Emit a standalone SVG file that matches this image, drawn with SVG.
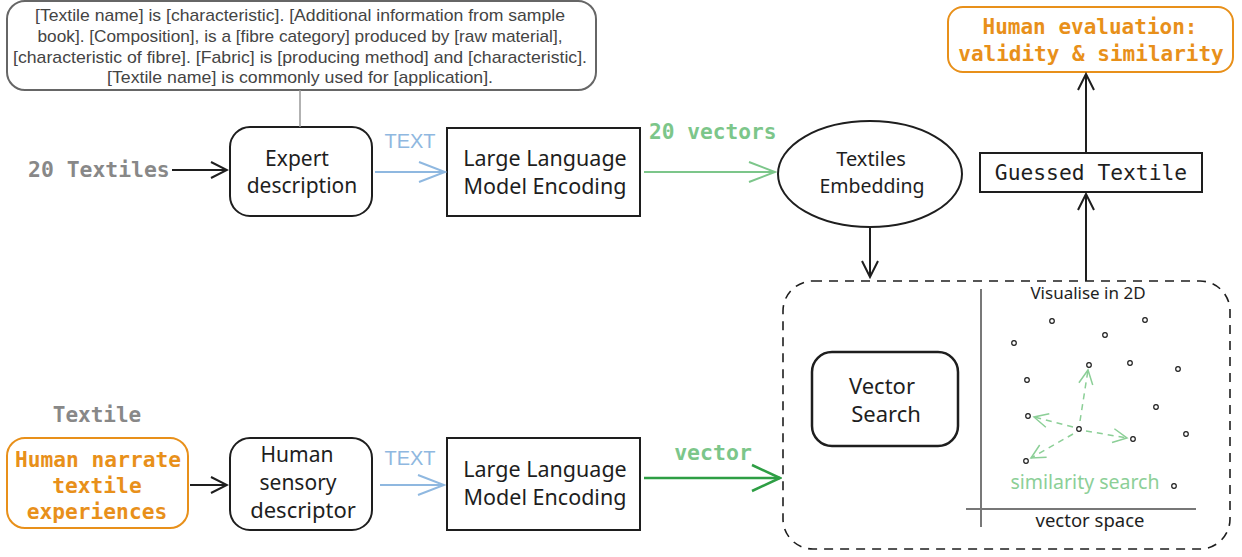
<svg xmlns="http://www.w3.org/2000/svg" width="1242" height="557" viewBox="0 0 1242 557">
<style>
.hand{font-family:"Noto Sans","DejaVu Sans",sans-serif;fill:#1e1e1e;text-anchor:middle}
.mono{font-family:"DejaVu Sans Mono","Liberation Mono",monospace}
.box{fill:none;stroke:#1e1e1e;stroke-width:2}
.lbl{font-family:"Liberation Sans",Arial,sans-serif;font-size:20px;fill:#8fb8e0;text-anchor:middle}
.dot{fill:#fff;stroke:#1e1e1e;stroke-width:1.2}
</style>
<defs>
<marker id="ak" markerUnits="userSpaceOnUse" markerWidth="20" markerHeight="20" viewBox="0 0 20 20" refX="18" refY="10" orient="auto"><path d="M2,2 L18,10 L2,18" fill="none" stroke="#1e1e1e" stroke-width="2"/></marker>
<marker id="ab" markerUnits="userSpaceOnUse" markerWidth="30" markerHeight="26" viewBox="0 0 30 26" refX="28" refY="13" orient="auto"><path d="M2,3 L28,13 L2,23" fill="none" stroke="#8fb8e0" stroke-width="2"/></marker>
<marker id="ag" markerUnits="userSpaceOnUse" markerWidth="30" markerHeight="26" viewBox="0 0 30 26" refX="28" refY="13" orient="auto"><path d="M2,3 L28,13 L2,23" fill="none" stroke="#7cc68a" stroke-width="2"/></marker>
<marker id="agd" markerUnits="userSpaceOnUse" markerWidth="32" markerHeight="32" viewBox="0 0 32 32" refX="30" refY="16" orient="auto"><path d="M2,3 L30,16 L2,29" fill="none" stroke="#2e9e44" stroke-width="2.5"/></marker>
<marker id="as" markerUnits="userSpaceOnUse" markerWidth="18" markerHeight="18" viewBox="0 0 18 18" refX="16" refY="9" orient="auto"><path d="M2,2 L16,9 L2,16" fill="none" stroke="#8ccf97" stroke-width="1.5"/></marker>
</defs>

<g id="template-text">
<rect x="7" y="1" width="589" height="89" rx="18" fill="none" stroke="#666" stroke-width="2"/>
<g font-family="'Liberation Sans',Arial,sans-serif" font-size="17" fill="#444" text-anchor="middle">
<text x="300" y="21" textLength="530" lengthAdjust="spacingAndGlyphs">[Textile name] is [characteristic]. [Additional information from sample</text>
<text x="300" y="42" textLength="525" lengthAdjust="spacingAndGlyphs">book]. [Composition], is a [fibre category] produced by [raw material],</text>
<text x="300" y="63" textLength="574" lengthAdjust="spacingAndGlyphs">[characteristic of fibre]. [Fabric] is [producing method] and [characteristic].</text>
<text x="300" y="83" textLength="386" lengthAdjust="spacingAndGlyphs">[Textile name] is commonly used for [application].</text>
</g>
</g>

<g id="label-20-textiles"><text class="mono" x="28" y="177" fill="#888" font-weight="bold" font-size="21.4">20 Textiles</text></g>

<g id="expert-description">
<rect class="box" x="230" y="127" width="142" height="89" rx="20"/>
<text class="hand" x="297" y="166" font-size="21">Expert</text>
<text class="hand" x="302" y="193" font-size="21">description</text>
</g>

<g id="llm-1">
<rect class="box" x="447" y="128" width="193" height="88"/>
<text class="hand" x="545" y="166" font-size="21.5">Large Language</text>
<text class="hand" x="545" y="194" font-size="21.5">Model Encoding</text>
</g>

<g id="textiles-embedding">
<ellipse class="box" cx="870" cy="174" rx="92" ry="53"/>
<text class="hand" x="871" y="166" font-size="20">Textiles</text>
<text class="hand" x="872" y="193" font-size="19.5">Embedding</text>
</g>

<g id="human-evaluation">
<rect x="948" y="7" width="285" height="65" rx="15" fill="none" stroke="#e8901a" stroke-width="2"/>
<text class="mono" x="1090" y="34" fill="#e8901a" font-weight="bold" font-size="21" text-anchor="middle">Human evaluation:</text>
<text class="mono" x="1091" y="61" fill="#e8901a" font-weight="bold" font-size="21" text-anchor="middle">validity &amp; similarity</text>
</g>

<g id="guessed-textile">
<rect class="box" x="980" y="153" width="222" height="39"/>
<text class="mono" x="1091" y="180" fill="#1e1e1e" font-size="21.3" text-anchor="middle">Guessed Textile</text>
</g>

<g id="label-textile"><text class="mono" x="97" y="422" fill="#888" font-size="21" font-weight="bold" text-anchor="middle">Textile</text></g>

<g id="human-narrate">
<rect x="7" y="438" width="181" height="90" rx="18" fill="none" stroke="#e8901a" stroke-width="2"/>
<g class="mono" fill="#e8901a" font-weight="bold" font-size="21.2" text-anchor="middle">
<text x="98" y="467">Human narrate</text>
<text x="97" y="493">textile</text>
<text x="97" y="519">experiences</text>
</g>
</g>

<g id="human-sensory-descriptor">
<rect class="box" x="230" y="438" width="142" height="92" rx="20"/>
<text class="hand" x="297" y="462" font-size="21">Human</text>
<text class="hand" x="298" y="490" font-size="21">sensory</text>
<text class="hand" x="303" y="518" font-size="22">descriptor</text>
</g>

<g id="llm-2">
<rect class="box" x="447" y="438" width="193" height="92"/>
<text class="hand" x="545" y="477" font-size="21.5">Large Language</text>
<text class="hand" x="545" y="505" font-size="21.5">Model Encoding</text>
</g>

<g id="vector-search-area">
<rect x="783" y="281" width="447" height="268" rx="30" fill="none" stroke="#1e1e1e" stroke-width="1.6" stroke-dasharray="9 7"/>
<g id="vector-search">
<rect x="812" y="352" width="146" height="94" rx="20" fill="none" stroke="#1e1e1e" stroke-width="2.5"/>
<text class="hand" x="882" y="394" font-size="22">Vector</text>
<text class="hand" x="886" y="422" font-size="22">Search</text>
</g>
<g id="vector-space">
<line x1="981" y1="289" x2="981" y2="527" stroke="#1e1e1e" stroke-width="1.2"/>
<line x1="966" y1="509" x2="1196" y2="509" stroke="#777" stroke-width="2"/>
<text class="hand" x="1088" y="299" font-size="17">Visualise in 2D</text>
<text class="hand" x="1090" y="527" font-size="18.5">vector space</text>
<circle class="dot" cx="1052" cy="321" r="2.3"/>
<circle class="dot" cx="1145" cy="320" r="2.3"/>
<circle class="dot" cx="1105" cy="335" r="2.3"/>
<circle class="dot" cx="1014" cy="343" r="2.3"/>
<circle class="dot" cx="1089" cy="365" r="2.3"/>
<circle class="dot" cx="1130" cy="363" r="2.3"/>
<circle class="dot" cx="1178" cy="369" r="2.3"/>
<circle class="dot" cx="1027" cy="380" r="2.3"/>
<circle class="dot" cx="1156" cy="407" r="2.3"/>
<circle class="dot" cx="1028" cy="416" r="2.3"/>
<circle class="dot" cx="1079" cy="429" r="2.3"/>
<circle class="dot" cx="1133" cy="439" r="2.3"/>
<circle class="dot" cx="1186" cy="434" r="2.3"/>
<circle class="dot" cx="1026" cy="461" r="2.3"/>
<circle class="dot" cx="1174" cy="486" r="2.3"/>
<g fill="none" stroke="#8ccf97" stroke-width="1.5" stroke-dasharray="6 5">
<path d="M1080,421 L1088,370" marker-end="url(#as)"/>
<path d="M1073,427 L1034,417" marker-end="url(#as)"/>
<path d="M1086,431 L1127,438" marker-end="url(#as)"/>
<path d="M1073,434 L1031,458" marker-end="url(#as)"/>
</g>
<text class="hand" x="1085" y="489" font-size="19.5" style="fill:#8ccf97">similarity search</text>
</g>
</g>

<g id="connectors">
<line x1="300" y1="90" x2="300" y2="127" stroke="#999" stroke-width="1.5"/>
<line x1="172" y1="170" x2="227" y2="170" stroke="#1e1e1e" stroke-width="2" marker-end="url(#ak)"/>
<line x1="375" y1="172" x2="445" y2="172" stroke="#8fb8e0" stroke-width="2" marker-end="url(#ab)"/>
<text class="lbl" x="410" y="148">TEXT</text>
<line x1="644" y1="172" x2="775" y2="172" stroke="#7cc68a" stroke-width="2" marker-end="url(#ag)"/>
<text class="mono" x="649" y="139" fill="#7cc68a" font-weight="bold" font-size="21.2">20 vectors</text>
<line x1="870" y1="228" x2="870" y2="277" stroke="#1e1e1e" stroke-width="2" marker-end="url(#ak)"/>
<line x1="1086" y1="281" x2="1086" y2="194" stroke="#1e1e1e" stroke-width="2" marker-end="url(#ak)"/>
<line x1="1086" y1="152" x2="1086" y2="74" stroke="#1e1e1e" stroke-width="2" marker-end="url(#ak)"/>
<line x1="190" y1="485" x2="227" y2="485" stroke="#1e1e1e" stroke-width="2" marker-end="url(#ak)"/>
<line x1="380" y1="485" x2="444" y2="485" stroke="#8fb8e0" stroke-width="2" marker-end="url(#ab)"/>
<text class="lbl" x="410" y="465">TEXT</text>
<line x1="644" y1="478" x2="780" y2="478" stroke="#2e9e44" stroke-width="2.5" marker-end="url(#agd)"/>
<text class="mono" x="713" y="460" fill="#7cc68a" font-weight="bold" font-size="21.5" text-anchor="middle">vector</text>
</g>
</svg>
